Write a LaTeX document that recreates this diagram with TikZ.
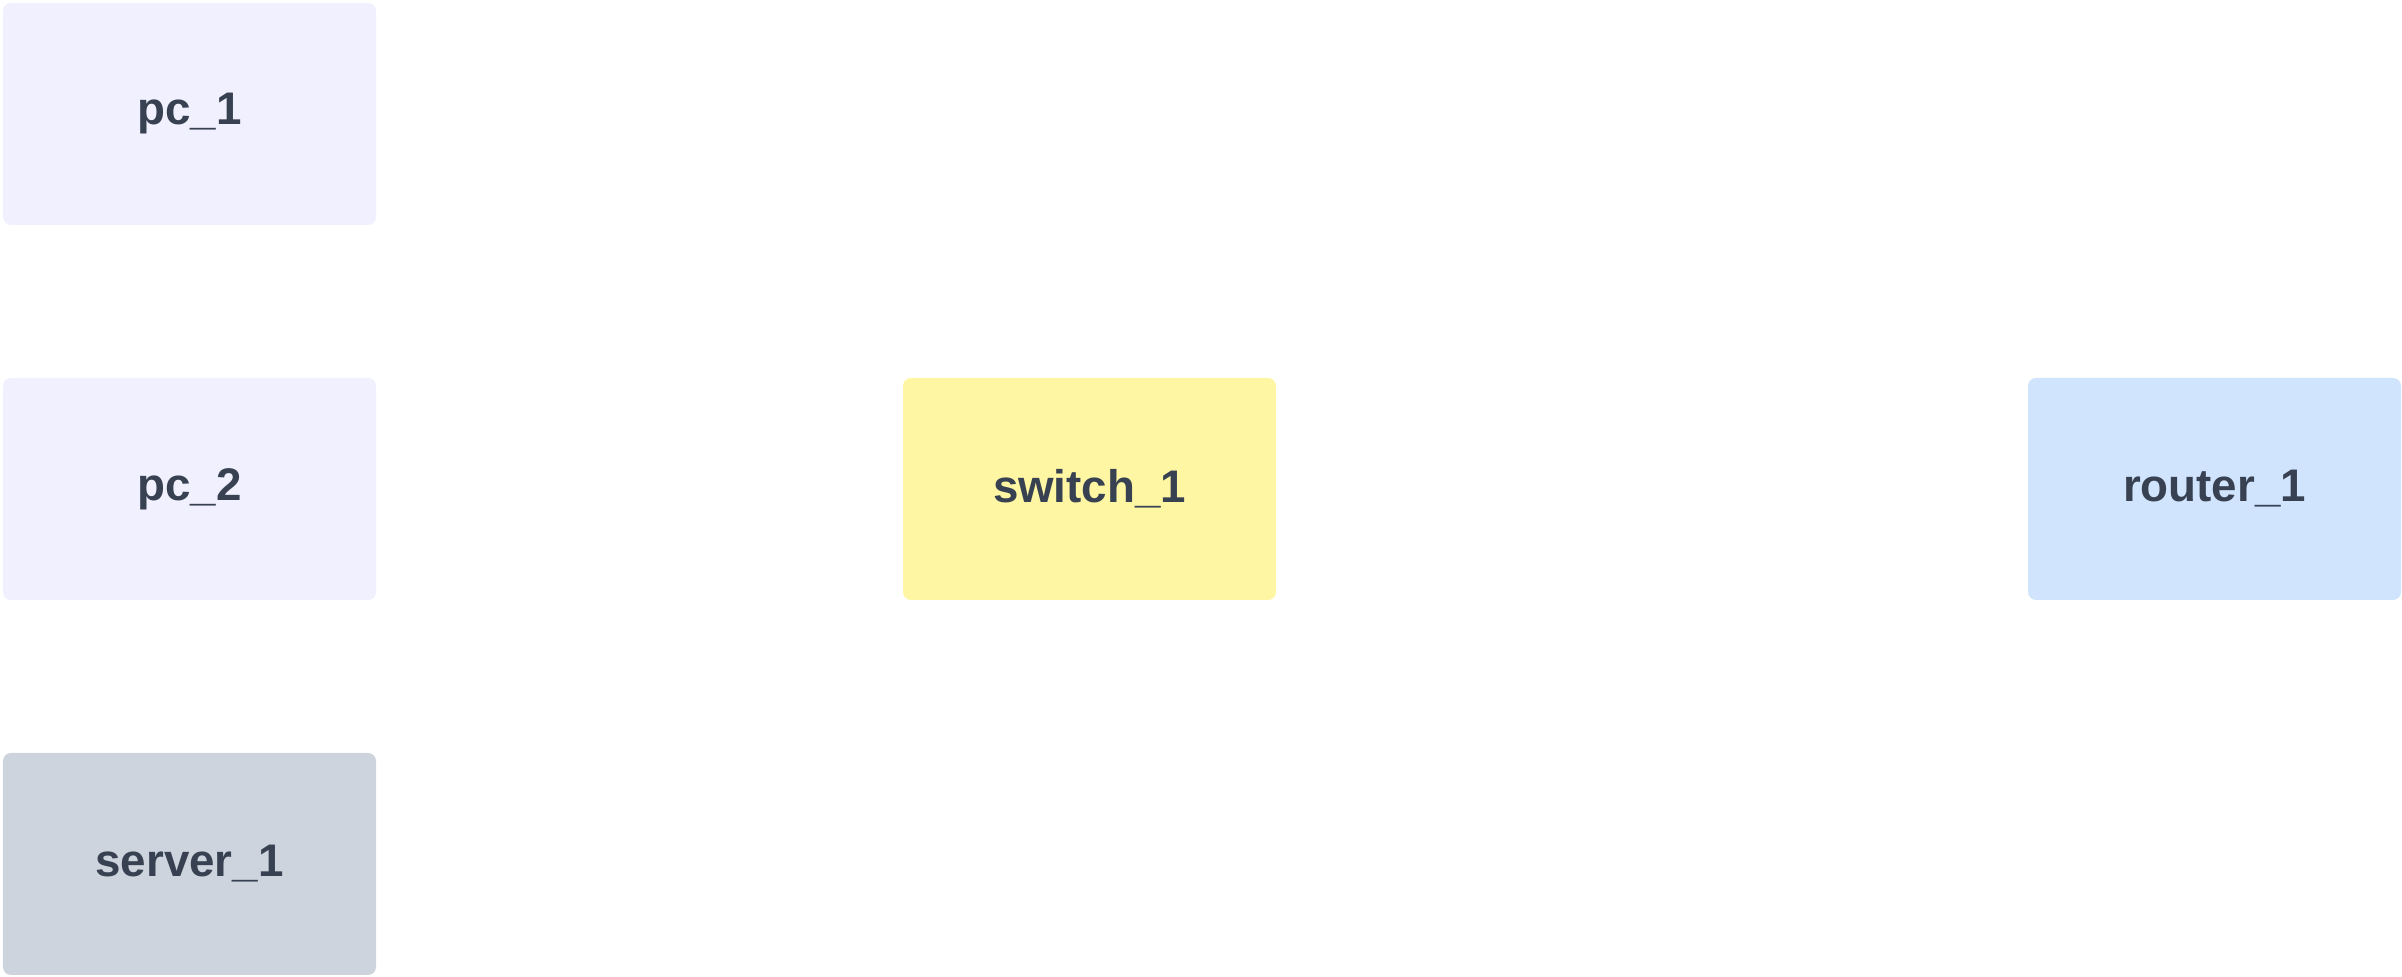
\documentclass[tikz,border=0pt]{standalone}
\usepackage{fontspec}
\setmainfont{Liberation Sans}
\usetikzlibrary{positioning}
\definecolor{labelgray}{HTML}{374151}
\definecolor{pcfill}{HTML}{F0F0FE}
\definecolor{switchfill}{HTML}{FEF6A3}
\definecolor{routerfill}{HTML}{D0E4FE}
\definecolor{serverfill}{HTML}{CDD4DD}
\tikzstyle{device} = [rectangle, rounded corners=0.08cm, minimum width=3.73cm, minimum height=2.22cm, text centered, text=labelgray, font=\fontsize{13}{15}\selectfont\bfseries]
\tikzstyle{pc} = [device, fill=pcfill]
\tikzstyle{switch} = [device, fill=switchfill]
\tikzstyle{router} = [device, fill=routerfill]
\tikzstyle{server} = [device, fill=serverfill]

\begin{document}
\begin{tikzpicture}[node distance = 3.75cm, auto]

    % fix the page to the reference size
    \useasboundingbox (-1.895,1.14) rectangle (22.125,-8.63);
    % Place nodes
    \node [pc] (pc-1) {pc\_1};
    \node [pc, below of=pc-1] (pc-2) {pc\_2};
    \node [server, below of=pc-2] (server-1) {server\_1};
    \node [switch, right of=pc-2, node distance = 9cm] (switch-1) {switch\_1};
    \node [router, right of=switch-1, node distance = 11.25cm] (router-1) {router\_1};
\end{tikzpicture}
\end{document}
